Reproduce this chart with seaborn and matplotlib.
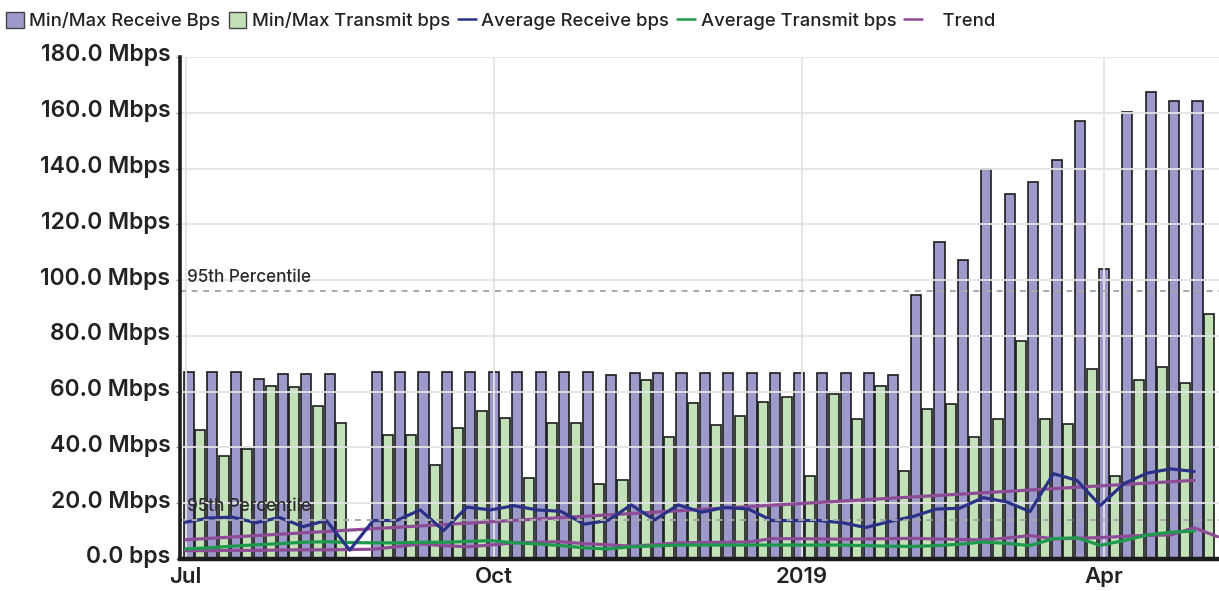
import numpy as np
import pandas as pd
import matplotlib
matplotlib.use("Agg")
import matplotlib.pyplot as plt
import matplotlib.dates as mdates
import matplotlib.transforms as mtransforms
from matplotlib.patches import Patch
from matplotlib.lines import Line2D
from matplotlib.ticker import FuncFormatter, FixedLocator
import seaborn as sns

# ---------------- data ----------------
week_start = "2018-07-01"
n_weeks = 44

receive_max = [67.1, 67.0, 67.0, 64.5, 66.4, 66.4, 66.4, np.nan, 67.0, 67.0,
               67.0, 67.0, 67.0, 67.0, 67.0, 67.0, 67.0, 67.0, 65.9, 66.8,
               66.8, 66.8, 66.8, 66.8, 66.8, 66.8, 66.8, 66.8, 66.8, 66.8,
               66.1, 94.8, 113.6, 107.3, 139.7, 130.7, 135.3, 143.2, 157.1, 103.9,
               160.4, 167.6, 164.2, 164.2]

transmit_max = [46.1, 37.0, 39.3, 62.1, 61.5, 54.9, 48.9, np.nan, 44.6, 44.6,
                33.8, 46.8, 53.1, 50.7, 29.1, 48.9, 48.9, 27.0, 28.2, 64.3,
                43.9, 56.1, 48.0, 51.1, 56.3, 58.1, 29.8, 59.2, 50.3, 62.1,
                31.5, 53.8, 55.7, 43.9, 50.3, 78.3, 50.3, 48.5, 68.1, 29.8,
                64.1, 68.9, 63.1, 87.8]

receive_avg = [13.2, 14.7, 15.0, 13.0, 14.9, 11.6, 13.8, 3.2, 13.8, 13.8,
               17.6, 10.2, 18.6, 17.6, 19.1, 17.6, 17.1, 12.5, 13.8, 19.4,
               14.0, 19.4, 16.8, 18.5, 17.9, 13.8, 13.8, 13.8, 13.0, 11.3,
               13.4, 15.2, 17.9, 18.2, 22.0, 20.5, 17.0, 30.6, 28.2, 19.2,
               27.0, 30.8, 32.3, 31.4]

transmit_avg = [3.6, 4.0, 4.6, 5.1, 5.5, 6.0, 6.2, 5.9, 5.8, 5.8,
                6.0, 6.0, 6.3, 6.6, 5.8, 5.4, 4.8, 4.0, 3.6, 4.4,
                4.7, 5.0, 5.0, 5.0, 5.0, 5.0, 5.0, 5.0, 5.0, 4.8,
                4.6, 4.5, 4.8, 5.3, 6.1, 5.6, 4.8, 7.3, 7.6, 4.9,
                6.6, 8.6, 9.6, 10.0]

# lower trend series (one extra week at the end)
transmit_trend = [3.0, 3.0, 3.1, 3.1, 3.2, 3.3, 3.3, 3.4, 3.5, 4.4,
                  5.4, 4.8, 4.4, 5.0, 5.8, 6.0, 6.2, 5.5, 5.1, 4.6,
                  5.1, 5.8, 5.9, 6.0, 6.1, 7.3, 7.3, 7.2, 7.1, 7.2,
                  7.3, 7.4, 7.2, 7.0, 6.8, 7.5, 8.4, 7.2, 7.4, 7.7,
                  8.1, 8.5, 8.6, 11.2, 8.0]

receive_trend_dates = ["2018-07-01", "2019-04-28"]
receive_trend_values = [6.9, 28.2]

receive_p95 = 96.2
transmit_p95 = 14.0

y_ticks = [0, 20, 40, 60, 80, 100, 120, 140, 160, 180]
x_tick_dates = ["2018-07-01", "2018-10-01", "2019-01-01", "2019-04-01"]
x_tick_labels = ["Jul", "Oct", "2019", "Apr"]

legend_labels = ["Min/Max Receive Bps", "Min/Max Transmit bps",
                 "Average Receive bps", "Average Transmit bps", "   Trend"]

# ---------------- styling ----------------
C_RX_BAR = "#9b9acb"
C_TX_BAR = "#c3e1b9"
C_RX_LINE = "#2b3186"
C_TX_LINE = "#1e9a4c"
C_TREND = "#8e4c97"
C_EDGE = "#1c1c1c"
C_TEXT = "#222222"

sns.set_theme(style="white")
plt.rcParams["font.family"] = ["Inter", "DejaVu Sans"]

W, H = 1219, 591
fig = plt.figure(figsize=(W / 100, H / 100), dpi=100)
ax = fig.add_axes([180 / W, 1 - 559 / H, (W - 180) / W, (559 - 57) / H])

dates = pd.date_range(week_start, periods=len(transmit_trend), freq="7D")
xnum = mdates.date2num(dates.to_pydatetime())
xw = xnum[:n_weeks]

df_rx = pd.DataFrame({"x": xw + 1.0, "y": receive_max}).dropna()
df_tx = pd.DataFrame({"x": xw + 4.4, "y": transmit_max}).dropna()

bar_kw = dict(native_scale=True, width=3.0 / 7.0, errorbar=None, saturation=1,
              edgecolor=C_EDGE, linewidth=1.2, orient="x", ax=ax)
sns.barplot(data=df_rx, x="x", y="y", color=C_RX_BAR, **bar_kw)
sns.barplot(data=df_tx, x="x", y="y", color=C_TX_BAR, **bar_kw)

line_kw = dict(ax=ax, linewidth=2.3, legend=False)
sns.lineplot(x=xnum, y=transmit_trend, color=C_TREND, **line_kw)
sns.lineplot(x=mdates.date2num(pd.to_datetime(receive_trend_dates).to_pydatetime()),
             y=receive_trend_values, color=C_TREND, **line_kw)
sns.lineplot(x=xw, y=transmit_avg, color=C_TX_LINE, **line_kw)
sns.lineplot(x=xw, y=receive_avg, color=C_RX_LINE, **line_kw)

# percentile lines
for val in (receive_p95, transmit_p95):
    ax.axhline(val, color="#a8a8a8", lw=1.4, ls=(0, (3, 3)), zorder=2.2)

# axis limits
x0 = mdates.date2num(pd.Timestamp("2018-06-29 08:00").to_pydatetime())
x1 = mdates.date2num(pd.Timestamp("2019-05-05 10:00").to_pydatetime())
ax.set_xlim(x0, x1)
ax.set_ylim(0, 180)

for val in (receive_p95, transmit_p95):
    ax.text(x0 + 2.0, val + 1.6, "95th Percentile", fontsize=12.3, color="#2a2a2a",
            fontweight="medium", ha="left", va="bottom", zorder=5)

# ticks
ax.yaxis.set_major_locator(FixedLocator(y_ticks))
ax.yaxis.set_major_formatter(FuncFormatter(
    lambda v, p: "0.0 bps" if v == 0 else f"{v:.1f} Mbps"))
xt = mdates.date2num(pd.to_datetime(x_tick_dates).to_pydatetime())
ax.xaxis.set_major_locator(FixedLocator(xt))
ax.set_xticklabels(x_tick_labels)

ax.tick_params(axis="y", labelsize=16.5, colors=C_TEXT, length=3, width=1,
               color="#999999", pad=4, left=True)
ax.tick_params(axis="x", labelsize=16, colors=C_TEXT, length=0, pad=6)
for lab in ax.get_yticklabels() + ax.get_xticklabels():
    lab.set_fontweight("semibold")
offset = mtransforms.ScaledTranslation(0, 4 / 100, fig.dpi_scale_trans)
for lab in ax.get_yticklabels():
    lab.set_transform(lab.get_transform() + offset)

ax.set_xlabel("")
ax.set_ylabel("")

# grid above bars, below lines
ax.grid(True, axis="both", color="#e4e4e4", lw=1.3)
ax.set_axisbelow("line")

for s in ("top", "right"):
    ax.spines[s].set_visible(False)
ax.spines["left"].set_color(C_EDGE)
ax.spines["left"].set_linewidth(2.6)
ax.spines["bottom"].set_color(C_EDGE)
ax.spines["bottom"].set_linewidth(3.2)
ax.spines["left"].set_zorder(6)
ax.spines["bottom"].set_zorder(6)

# legend
handles = [
    Patch(facecolor=C_RX_BAR, edgecolor="#444444", linewidth=1.0),
    Patch(facecolor=C_TX_BAR, edgecolor="#444444", linewidth=1.0),
    Line2D([], [], color=C_RX_LINE, lw=1.8),
    Line2D([], [], color=C_TX_LINE, lw=1.8),
    Line2D([], [], color=C_TREND, lw=1.8),
]
leg = fig.legend(handles, legend_labels, loc="center left",
                 bbox_to_anchor=(6 / W, 1 - 21 / H), ncol=5, frameon=False,
                 handlelength=0.95, handleheight=1.0,
                 handletextpad=0.3, columnspacing=0.45, borderaxespad=0, borderpad=0,
                 labelcolor=C_TEXT, prop={"size": 13.3, "weight": "medium"})

fig.savefig("out.png", dpi=100)
